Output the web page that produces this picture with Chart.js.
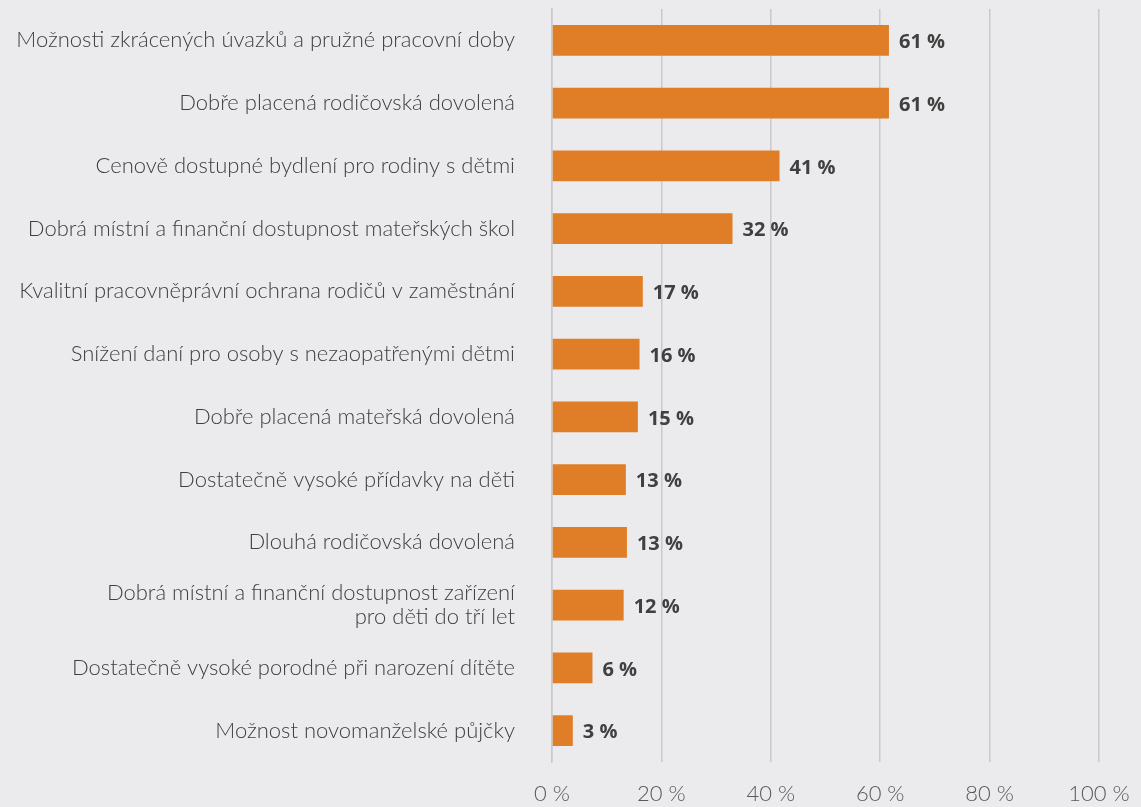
<!DOCTYPE html>
<html>
<head>
<meta charset="utf-8">
<script src="https://cdn.jsdelivr.net/npm/chart.js@4/dist/chart.umd.min.js"></script>
<style>
  html, body { margin: 0; padding: 0; background: #ebebed; }
  #wrap { width: 1141px; height: 807px; position: relative; }
</style>
</head>
<body>
<div id="wrap"><canvas id="c"></canvas></div>
<script>
const categories = [
  "Možnosti zkrácených úvazků a pružné pracovní doby",
  "Dobře placená rodičovská dovolená",
  "Cenově dostupné bydlení pro rodiny s dětmi",
  "Dobrá místní a finanční dostupnost mateřských škol",
  "Kvalitní pracovněprávní ochrana rodičů v zaměstnání",
  "Snížení daní pro osoby s nezaopatřenými dětmi",
  "Dobře placená mateřská dovolená",
  "Dostatečně vysoké přídavky na děti",
  "Dlouhá rodičovská dovolená",
  ["Dobrá místní a finanční dostupnost zařízení", "pro děti do tří let"],
  "Dostatečně vysoké porodné při narození dítěte",
  "Možnost novomanželské půjčky"
];
const values = [61.6, 61.6, 41.6, 33.0, 16.6, 16.0, 15.7, 13.5, 13.7, 13.1, 7.4, 3.8];
const valueLabels = [61, 61, 41, 32, 17, 16, 15, 13, 13, 12, 6, 3];
const xTicks = [0, 20, 40, 60, 80, 100];

const LIGHT = "'Lato', 'Open Sans', sans-serif";

const labelPlugin = {
  id: 'valueLabels',
  afterDatasetsDraw(chart) {
    const ctx = chart.ctx;
    const meta = chart.getDatasetMeta(0);
    ctx.save();
    ctx.font = "bold 20px 'Open Sans', sans-serif";
    ctx.fillStyle = '#404040';
    ctx.textAlign = 'left';
    ctx.textBaseline = 'middle';
    meta.data.forEach((bar, i) => {
      ctx.fillText(valueLabels[i] + ' %', bar.x + 10, bar.y + 2);
    });
    ctx.restore();
  }
};

new Chart(document.getElementById('c'), {
  type: 'bar',
  data: {
    labels: categories,
    datasets: [{
      data: values,
      backgroundColor: '#e07e27',
      borderWidth: 0,
      categoryPercentage: 1,
      barPercentage: 0.49
    }]
  },
  options: {
    indexAxis: 'y',
    responsive: true,
    maintainAspectRatio: false,
    animation: false,
    layout: { padding: { top: 9, right: 42, left: 0, bottom: 0 } },
    plugins: { legend: { display: false }, tooltip: { enabled: false } },
    scales: {
      x: {
        min: 0, max: 100,
        afterBuildTicks(scale) { scale.ticks = xTicks.map(v => ({ value: v })); },
        afterFit(scale) {
          scale.height = 45;
          scale.paddingLeft = 0;
          scale.paddingRight = 0;
        },
        grid: { color: '#c9c9cb', lineWidth: 1.5, drawTicks: true, tickLength: 19, tickColor: 'rgba(0,0,0,0)' },
        border: { display: false },
        ticks: {
          padding: 0,
          color: '#595959',
          font: { family: LIGHT, size: 22, weight: 300 },
          callback: (v) => v + ' %'
        }
      },
      y: {
        afterFit(scale) {
          scale.width = 552;
          scale.paddingTop = 0;
          scale.paddingBottom = 0;
        },
        grid: { display: false, drawTicks: true, tickLength: 37 },
        border: { display: true, color: '#c9c9cb', width: 1.5 },
        ticks: {
          padding: 0,
          color: '#404040',
          font: { family: LIGHT, size: 22, weight: 300, lineHeight: 1.1 }
        }
      }
    }
  },
  plugins: [labelPlugin]
});
</script>
</body>
</html>
